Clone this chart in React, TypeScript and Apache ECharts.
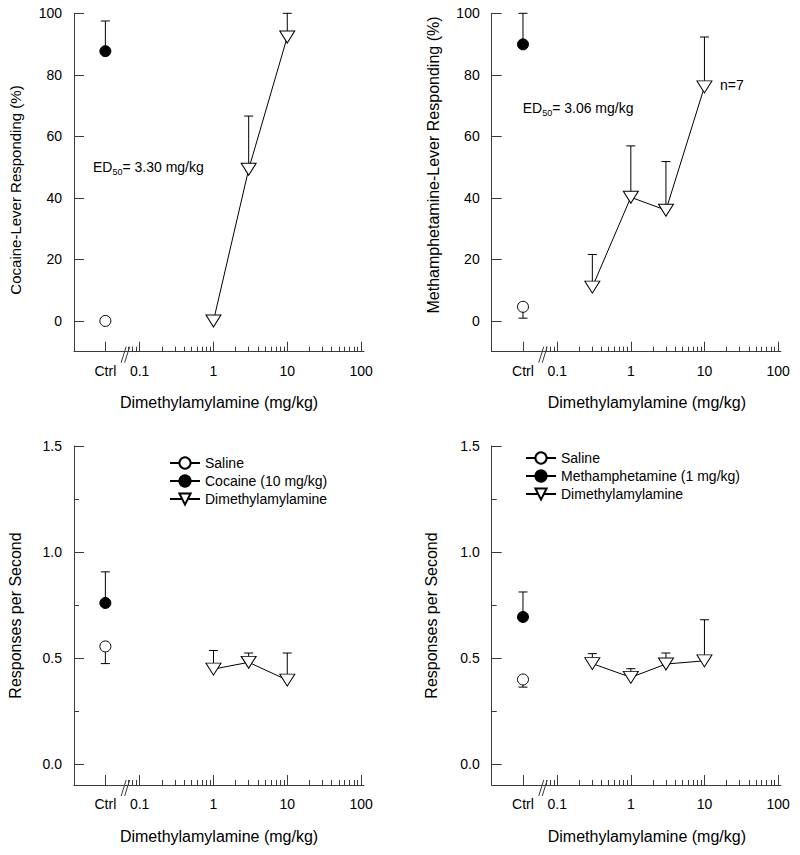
import React, { useEffect, useRef } from 'react';
import * as echarts from 'echarts';

const FONT = '"Liberation Sans", Arial, Helvetica, sans-serif';
const AXIS = '#3a3a3a';

// ---- x axis (log10 dose, with a "Ctrl" slot left of an axis break) ----
const CTRL_POS = -1.465;
const BREAK_POS = -1.19;
const X_MIN = -1.89;
const X_MAX = 2.04;
const xTickLabels = ['Ctrl', '0.1', '1', '10', '100'];
const xMajorTicks = [CTRL_POS, -1, 0, 1, 2];
const xMinorDoses = [0.07, 0.08, 0.09, 0.2, 0.3, 0.4, 0.5, 0.6, 0.7, 0.8, 0.9, 2, 3, 4, 5, 6, 7, 8, 9, 20, 30, 40, 50, 60, 70, 80, 90];

// ---- y axes ----
const pctTicks = [0, 20, 40, 60, 80, 100];
const rateTicks = [0, 0.5, 1.0, 1.5];
const rateMinorTicks = [0.25, 0.75, 1.25];

// ---- Panel A: cocaine-trained, % drug-lever ----
const dosesA = [1, 3, 10];
const dmaaA = [0, 49.3, 92.3];
const dmaaSemA = [0, 17.3, 7.7];
const salineA = 0;
const salineSemA = 0;
const cocaineA = 87.7;
const cocaineSemA = 9.8;

// ---- Panel B: methamphetamine-trained, % drug-lever ----
const dosesB = [0.3, 1, 3, 10];
const dmaaB = [11.0, 40.2, 36.0, 76.1];
const dmaaSemB = [10.6, 16.7, 15.8, 16.2];
const salineB = 4.6;
const salineSemB = 3.7;
const methB = 89.9;
const methSemB = 10.1;

// ---- Panel C: cocaine-trained, response rate ----
const dosesC = [1, 3, 10];
const dmaaC = [0.447, 0.479, 0.395];
const dmaaSemC = [0.088, 0.044, 0.128];
const salineC = 0.554;
const salineSemC = 0.081;
const cocaineC = 0.759;
const cocaineSemC = 0.147;

// ---- Panel D: methamphetamine-trained, response rate ----
const dosesD = [0.3, 1, 3, 10];
const dmaaD = [0.473, 0.408, 0.471, 0.486];
const dmaaSemD = [0.047, 0.041, 0.052, 0.194];
const salineD = 0.398;
const salineSemD = 0.036;
const methD = 0.693;
const methSemD = 0.118;

const TRI = 'path://M0,0 L16,0 L8,13 Z';

function xLabel(v: number) {
  const i = xMajorTicks.findIndex((t) => Math.abs(t - v) < 1e-6);
  return i >= 0 ? xTickLabels[i] : '';
}

function xAxesFor(gridIndex: number, namePad: number[]) {
  return [
    {
      type: 'value', gridIndex, position: 'bottom', min: X_MIN, max: X_MAX,
      axisLine: { show: true, onZero: false, lineStyle: { color: AXIS, width: 1 } },
      axisTick: { show: true, inside: true, length: 10, customValues: xMajorTicks, lineStyle: { color: AXIS, width: 1 } },
      axisLabel: { show: true, customValues: xMajorTicks, formatter: xLabel, margin: 12, color: '#000', fontSize: 14, fontFamily: FONT },
      splitLine: { show: false },
      name: 'Dimethylamylamine (mg/kg)', nameLocation: 'middle', nameGap: 43,
      nameTextStyle: { fontSize: 16, color: '#000', fontFamily: FONT, padding: namePad },
    },
    {
      type: 'value', gridIndex, position: 'bottom', min: X_MIN, max: X_MAX,
      axisLine: { show: false, onZero: false },
      axisTick: { show: true, inside: true, length: 5, customValues: xMinorDoses.map((d) => Math.log10(d)), lineStyle: { color: AXIS, width: 1 } },
      axisLabel: { show: false },
      splitLine: { show: false },
    },
  ];
}

function yMajor(gridIndex: number, min: number, max: number, ticks: number[], fmt: (v: number) => string, name: string, fontSize: number, gap: number, pad: number[]) {
  return {
    type: 'value', gridIndex, position: 'left', min, max,
    axisLine: { show: true, onZero: false, lineStyle: { color: AXIS, width: 1 } },
    axisTick: { show: true, inside: true, length: 10, customValues: ticks, lineStyle: { color: AXIS, width: 1 } },
    axisLabel: { show: true, customValues: ticks, formatter: fmt, margin: 12, color: '#000', fontSize: 14, fontFamily: FONT },
    splitLine: { show: false },
    name, nameLocation: 'middle', nameGap: gap,
    nameTextStyle: { fontSize, color: '#000', fontFamily: FONT, padding: pad },
  };
}

function yMinor(gridIndex: number, min: number, max: number, ticks: number[]) {
  return {
    type: 'value', gridIndex, position: 'left', min, max,
    axisLine: { show: false, onZero: false },
    axisTick: { show: true, inside: true, length: 5, customValues: ticks, lineStyle: { color: AXIS, width: 1 } },
    axisLabel: { show: false },
    splitLine: { show: false },
  };
}

function pointSeries(name: string, xi: number, yi: number, data: number[][], filled: boolean, tri: boolean) {
  return {
    type: 'line', name, xAxisIndex: xi, yAxisIndex: yi, data, z: 3,
    symbol: tri ? TRI : 'circle',
    symbolSize: tri ? [15, 12] : 11,
    showSymbol: true,
    itemStyle: { color: filled ? '#000' : '#fff', borderColor: '#000', borderWidth: 1 },
    lineStyle: { color: '#000', width: 1 },
    emphasis: { disabled: true },
    silent: true,
    animation: false,
  };
}

function errorSeries(xi: number, yi: number, data: number[][]) {
  return {
    type: 'custom', xAxisIndex: xi, yAxisIndex: yi, z: 1, silent: true,
    data: data.filter((d) => Math.abs(d[2] - d[1]) > 1e-9),
    encode: { x: 0, y: 1 },
    renderItem: (_p: any, api: any) => {
      const p0 = api.coord([api.value(0), api.value(1)]);
      const p1 = api.coord([api.value(0), api.value(2)]);
      const hw = 4.5;
      return {
        type: 'group',
        children: [
          { type: 'line', shape: { x1: p0[0], y1: p0[1], x2: p1[0], y2: p1[1] }, style: { stroke: '#000', lineWidth: 1 } },
          { type: 'line', shape: { x1: p1[0] - hw, y1: p1[1], x2: p1[0] + hw, y2: p1[1] }, style: { stroke: '#000', lineWidth: 1 } },
        ],
      };
    },
  };
}

function breakSeries(xi: number, yi: number, yMin: number) {
  return {
    type: 'custom', xAxisIndex: xi, yAxisIndex: yi, z: 4, silent: true,
    data: [[BREAK_POS, yMin]],
    encode: { x: 0, y: 1 },
    renderItem: (_p: any, api: any) => {
      const p = api.coord([api.value(0), api.value(1)]);
      const st = { stroke: AXIS, lineWidth: 1 };
      return {
        type: 'group',
        children: [
          { type: 'line', shape: { x1: p[0] - 4.5, y1: p[1] + 11, x2: p[0] + 0.5, y2: p[1] - 5 }, style: st },
          { type: 'line', shape: { x1: p[0] - 1, y1: p[1] + 11, x2: p[0] + 4, y2: p[1] - 5 }, style: st },
        ],
      };
    },
  };
}

function panelSeries(
  xi: number, yi: number, yMin: number, drugName: string,
  doses: number[], dmaa: number[], dmaaSem: number[],
  sal: number, salSem: number, drug: number, drugSem: number,
) {
  const dmaaPts = doses.map((d, i) => [Math.log10(d), dmaa[i]]);
  const errs = [
    ...doses.map((d, i) => [Math.log10(d), dmaa[i], dmaa[i] + dmaaSem[i]]),
    [CTRL_POS, sal, sal - salSem],
    [CTRL_POS, drug, drug + drugSem],
  ];
  return [
    errorSeries(xi, yi, errs),
    pointSeries('Saline', xi, yi, [[CTRL_POS, sal]], false, false),
    pointSeries(drugName, xi, yi, [[CTRL_POS, drug]], true, false),
    pointSeries('Dimethylamylamine', xi, yi, dmaaPts, false, true),
    breakSeries(xi, yi, yMin),
  ];
}

const pctFmt = (v: number) => String(Math.round(v));
const rateFmt = (v: number) => v.toFixed(1);

const edRich = {
  a: { fontSize: 14, fontFamily: FONT, fill: '#000' },
  s: { fontSize: 9, fontFamily: FONT, fill: '#000', padding: [9, 0, 0, 0] },
};

const option: any = {
  animation: false,
  backgroundColor: '#fff',
  textStyle: { fontFamily: FONT },
  grid: [
    { left: 74, top: 13.3, width: 290, height: 338.4 },
    { left: 491.7, top: 13.3, width: 289.3, height: 338.4 },
    { left: 74, top: 446, width: 290, height: 339 },
    { left: 491.7, top: 446, width: 289.3, height: 339 },
  ],
  xAxis: [
    ...xAxesFor(0, [0, 0, 0, 0]),
    ...xAxesFor(1, [0, 0, 0, 21]),
    ...xAxesFor(2, [0, 0, 0, 0]),
    ...xAxesFor(3, [0, 0, 0, 21]),
  ],
  yAxis: [
    yMajor(0, -10, 100, pctTicks, pctFmt, 'Cocaine-Lever Responding (%)', 15, 51, [0, 15, 0, 0]),
    yMajor(1, -10, 100, pctTicks, pctFmt, 'Methamphetamine-Lever Responding (%)', 16, 50, [0, 0, 0, 35]),
    yMajor(2, -0.1, 1.5, rateTicks, rateFmt, 'Responses per Second', 16, 51, [0, 0, 0, 0]),
    yMinor(2, -0.1, 1.5, rateMinorTicks),
    yMajor(3, -0.1, 1.5, rateTicks, rateFmt, 'Responses per Second', 16, 52, [0, 0, 0, 0]),
    yMinor(3, -0.1, 1.5, rateMinorTicks),
  ],
  legend: [
    {
      data: ['Saline', 'Cocaine (10 mg/kg)', 'Dimethylamylamine'],
      orient: 'vertical', left: 169, top: 456, padding: 0, itemWidth: 30, itemHeight: 14, itemGap: 4,
      selectedMode: false, textStyle: { fontSize: 14, color: '#000', fontFamily: FONT },
    },
    {
      data: ['Saline', 'Methamphetamine (1 mg/kg)', 'Dimethylamylamine'],
      orient: 'vertical', left: 525, top: 451, padding: 0, itemWidth: 30, itemHeight: 14, itemGap: 4,
      selectedMode: false, textStyle: { fontSize: 14, color: '#000', fontFamily: FONT },
    },
  ],
  series: [
    ...panelSeries(0, 0, -10, 'Cocaine (10 mg/kg)', dosesA, dmaaA, dmaaSemA, salineA, salineSemA, cocaineA, cocaineSemA),
    ...panelSeries(2, 1, -10, 'Methamphetamine (1 mg/kg)', dosesB, dmaaB, dmaaSemB, salineB, salineSemB, methB, methSemB),
    ...panelSeries(4, 2, -0.1, 'Cocaine (10 mg/kg)', dosesC, dmaaC, dmaaSemC, salineC, salineSemC, cocaineC, cocaineSemC),
    ...panelSeries(6, 4, -0.1, 'Methamphetamine (1 mg/kg)', dosesD, dmaaD, dmaaSemD, salineD, salineSemD, methD, methSemD),
  ],
  graphic: [
    { type: 'text', left: 93, top: 160, style: { text: '{a|ED}{s|50}{a|= 3.30 mg/kg}', rich: edRich } },
    { type: 'text', left: 522.7, top: 101, style: { text: '{a|ED}{s|50}{a|= 3.06 mg/kg}', rich: edRich } },
    { type: 'text', left: 720, top: 78, style: { text: 'n=7', fontSize: 14, fontFamily: FONT, fill: '#000' } },
  ],
};

export default function App() {
  const ref = useRef<HTMLDivElement>(null);
  useEffect(() => {
    const chart = echarts.init(ref.current as HTMLDivElement, null, { renderer: 'svg', width: 800, height: 855 });
    chart.setOption(option);
    return () => chart.dispose();
  }, []);
  return <div ref={ref} style={{ position: 'fixed', left: 0, top: 0, width: 800, height: 855, background: '#fff' }} />;
}
